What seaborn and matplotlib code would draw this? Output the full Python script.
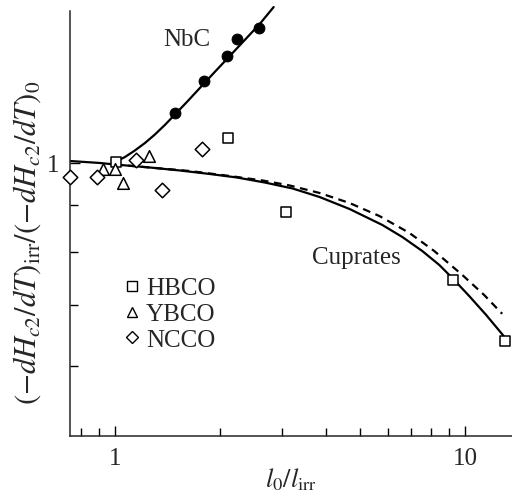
import matplotlib
matplotlib.use("Agg")
import matplotlib.pyplot as plt
from matplotlib.lines import Line2D
from matplotlib.ticker import FixedLocator, NullFormatter, FixedFormatter
import seaborn as sns

# ---- data ----
nbc_x = [1.48, 1.79, 2.09, 2.23, 2.57]
nbc_y = [1.134, 1.229, 1.309, 1.366, 1.405]

hbco_x = [1.007, 2.10, 3.07, 9.24, 13.0]
hbco_y = [1.0025, 1.065, 0.884, 0.745, 0.639]

ybco_x = [0.924, 1.00, 1.054, 1.25]
ybco_y = [0.985, 0.985, 0.951, 1.018]

ncco_x = [0.744, 0.889, 1.148, 1.361, 1.77]
ncco_y = [0.965, 0.965, 1.008, 0.934, 1.036]

# fitted curves
nbc_fit_x = [1.000, 1.068, 1.140, 1.218, 1.300, 1.388, 1.483, 1.614, 1.747,
             1.927, 2.127, 2.347, 2.589, 2.838]
nbc_fit_y = [1.0025, 1.0152, 1.0320, 1.0516, 1.0743, 1.1004, 1.1297, 1.1688,
             1.2077, 1.2575, 1.3091, 1.3628, 1.4187, 1.4806]

cup_fit_x = [0.744, 0.906, 1.000, 1.258, 1.532, 1.865, 2.227, 2.676, 3.215,
             3.837, 4.673, 5.800, 6.614, 7.542, 8.433, 9.183, 10.27, 11.48, 13.09]
cup_fit_y = [1.005, 1.000, 0.9962, 0.9887, 0.9813, 0.9727, 0.9642, 0.9521,
             0.9378, 0.9180, 0.8907, 0.8555, 0.8300, 0.8012, 0.7736, 0.7487,
             0.7153, 0.6820, 0.6421]

cup_dash_x = [1.000, 1.258, 1.636, 2.127, 2.641, 3.152, 3.837, 4.673, 5.689,
              6.926, 8.160, 9.806, 11.33, 12.75]
cup_dash_y = [0.9962, 0.9887, 0.980, 0.9678, 0.9569, 0.9450, 0.9273, 0.9042,
              0.8750, 0.8386, 0.8012, 0.7545, 0.7172, 0.6842]

x_major = [1, 10]
x_major_labels = ["1", "10"]
x_minor = [0.8, 0.9, 2, 3, 4, 5, 6, 7, 8, 9]
y_major = [1.0]
y_major_labels = ["1"]
y_minor = [0.6, 0.7, 0.8, 0.9]

# ---- style ----
sns.set_theme(style="ticks")
plt.rcParams["font.family"] = ["Liberation Serif", "DejaVu Serif"]
plt.rcParams["mathtext.fontset"] = "stix"
plt.rcParams["axes.linewidth"] = 1.1

fig = plt.figure(figsize=(5.12, 5.02), dpi=100)
ax = fig.add_axes([70 / 512, 1 - 437 / 502, 442 / 512, (437 - 12) / 502])

lw = 1.6
sns.lineplot(x=nbc_fit_x, y=nbc_fit_y, ax=ax, color="black", lw=lw,
             sort=False, estimator=None, clip_on=False, zorder=2)
sns.lineplot(x=cup_fit_x, y=cup_fit_y, ax=ax, color="black", lw=lw,
             sort=False, estimator=None, zorder=2)
sns.lineplot(x=cup_dash_x, y=cup_dash_y, ax=ax, color="black", lw=lw,
             sort=False, estimator=None, zorder=2)
ax.lines[-1].set_dashes([3.5, 2.5])

sns.scatterplot(x=nbc_x, y=nbc_y, ax=ax, marker="o", s=62, color="black",
                edgecolor="black", zorder=3)
sns.scatterplot(x=hbco_x, y=hbco_y, ax=ax, marker="s", s=50, facecolor="white",
                edgecolor="black", linewidth=1.1, zorder=3, clip_on=False)
sns.scatterplot(x=ybco_x, y=ybco_y, ax=ax, marker="^", s=70, facecolor="white",
                edgecolor="black", linewidth=1.1, zorder=3)
sns.scatterplot(x=ncco_x, y=ncco_y, ax=ax, marker="D", s=55, facecolor="white",
                edgecolor="black", linewidth=1.1, zorder=3, clip_on=False)

ax.set_xscale("log")
ax.set_yscale("log")
ax.set_xlim(0.744, 13.6)
ax.set_ylim(0.503, 1.466)

ax.xaxis.set_major_locator(FixedLocator(x_major))
ax.xaxis.set_major_formatter(FixedFormatter(x_major_labels))
ax.xaxis.set_minor_locator(FixedLocator(x_minor))
ax.xaxis.set_minor_formatter(NullFormatter())
ax.yaxis.set_major_locator(FixedLocator(y_major))
ax.yaxis.set_major_formatter(FixedFormatter(y_major_labels))
ax.yaxis.set_minor_locator(FixedLocator(y_minor))
ax.yaxis.set_minor_formatter(NullFormatter())

ax.tick_params(which="both", direction="in", labelsize=18, width=1.0, color="black")
ax.tick_params(which="major", length=7, pad=8)
ax.tick_params(which="minor", length=6)

sns.despine(ax=ax, top=True, right=True)

ax.set_xlabel(r"$l_0/l_{\rm irr}$", fontsize=19, labelpad=-3)
ax.set_ylabel(r"$(-dH_{c2}/dT)_{\rm irr}/(-dH_{c2}/dT)_0$", fontsize=22)
ax.yaxis.set_label_coords(-0.062, 0.456)

ax.text(1.604, 1.366, "NbC", fontsize=18, ha="center", va="center")
ax.text(4.89, 0.789, "Cuprates", fontsize=18, ha="center", va="center")

handles = [
    Line2D([], [], ls="none", marker="s", ms=6.5, mfc="white", mec="black", mew=1.0),
    Line2D([], [], ls="none", marker="^", ms=6.5, mfc="white", mec="black", mew=1.0),
    Line2D([], [], ls="none", marker="D", ms=6.5, mfc="white", mec="black", mew=1.0),
]
leg = ax.legend(handles, ["HBCO", "YBCO", "NCCO"], loc="upper left",
                bbox_to_anchor=(122 / 512, 1 - 278 / 502), bbox_transform=fig.transFigure,
                frameon=False, fontsize=18, handlelength=0.8, handletextpad=0.15,
                labelspacing=0.13, borderpad=0, borderaxespad=0)

fig.savefig("out.png", dpi=100)
